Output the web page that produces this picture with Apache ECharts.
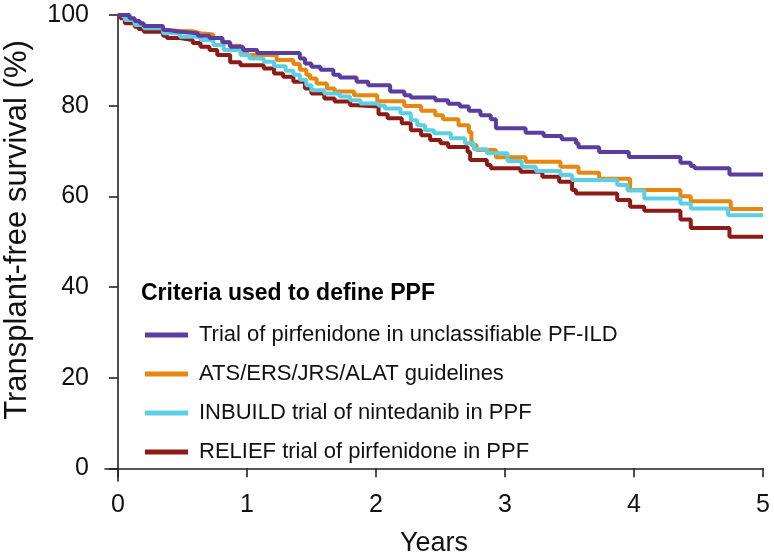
<!DOCTYPE html>
<html>
<head>
<meta charset="utf-8">
<script src="https://cdn.jsdelivr.net/npm/echarts@6/dist/echarts.min.js"></script>
<style>html,body{margin:0;padding:0;background:#fff}#c{width:774px;height:560px}</style>
</head>
<body>
<div id="c"></div>
<script>
const seriesNames = [
  'Trial of pirfenidone in unclassifiable PF-ILD',
  'ATS/ERS/JRS/ALAT guidelines',
  'INBUILD trial of nintedanib in PPF',
  'RELIEF trial of pirfenidone in PPF'
];
const legendTitle = 'Criteria used to define PPF';
const xTicks = [0, 1, 2, 3, 4, 5];
const yTicks = [0, 20, 40, 60, 80, 100];

// [years, transplant-free survival %]
const unclassifiable = [[0,100],[0.09,99.3],[0.13,98.7],[0.17,98.2],[0.2,97.6],[0.35,96.7],[0.39,96.3],[0.48,96.0],[0.62,95.4],[0.71,94.9],[0.81,94.0],[0.87,93.0],[0.97,92.3],[1.08,91.6],[1.41,90.4],[1.45,89.3],[1.5,88.6],[1.57,87.9],[1.67,86.8],[1.72,86.2],[1.85,85.3],[1.94,84.5],[2.11,83.1],[2.22,82.3],[2.27,81.8],[2.46,81.2],[2.56,80.4],[2.65,79.8],[2.72,78.9],[2.81,77.9],[2.89,77.0],[2.93,75.0],[3.16,74.0],[3.3,73.3],[3.44,72.6],[3.55,71.7],[3.57,70.8],[3.73,69.8],[3.96,68.7],[4.36,67.4],[4.44,66.7],[4.47,66.2],[4.74,64.8],[5.0,64.8]];
const atsGuidelines = [[0,100],[0.07,99.0],[0.13,98.0],[0.2,97.3],[0.35,96.6],[0.39,96.4],[0.58,96.0],[0.64,95.7],[0.74,94.9],[0.81,94.0],[0.87,93.2],[0.95,92.0],[1.0,91.2],[1.23,90.1],[1.36,89.2],[1.41,87.9],[1.46,86.8],[1.49,86.0],[1.54,84.9],[1.62,83.8],[1.68,83.1],[1.83,82.3],[2.01,81.0],[2.22,79.9],[2.35,78.9],[2.46,77.9],[2.52,77.0],[2.64,75.7],[2.72,74.2],[2.74,71.3],[2.78,70.2],[2.93,68.6],[3.16,67.6],[3.43,66.5],[3.57,65.2],[3.73,63.9],[3.97,61.4],[4.36,60.0],[4.44,58.9],[4.75,57.2],[5.0,57.2]];
const inbuild = [[0,100],[0.02,99.6],[0.054,98.9],[0.13,97.8],[0.2,97.1],[0.35,96.0],[0.48,95.2],[0.64,94.5],[0.74,93.4],[0.82,92.3],[0.95,91.2],[1.02,90.4],[1.13,89.7],[1.21,88.7],[1.3,87.7],[1.36,86.8],[1.41,85.7],[1.46,84.5],[1.5,83.4],[1.6,82.7],[1.72,82.0],[1.8,81.2],[1.88,80.5],[2.02,80.0],[2.07,79.4],[2.19,78.3],[2.27,76.8],[2.32,75.7],[2.38,74.6],[2.45,73.9],[2.58,72.8],[2.69,71.7],[2.76,70.4],[2.86,69.5],[3.02,67.8],[3.13,66.5],[3.24,65.6],[3.43,64.7],[3.52,63.6],[3.87,62.5],[3.95,61.3],[4.08,59.5],[4.36,58.4],[4.44,57.3],[4.73,55.8],[5.0,55.8]];
const relief = [[0,100],[0.02,99.3],[0.054,98.2],[0.13,97.4],[0.16,96.9],[0.2,96.3],[0.35,95.4],[0.38,94.9],[0.48,94.5],[0.58,93.8],[0.64,93.0],[0.71,92.3],[0.77,91.2],[0.87,89.6],[0.95,88.9],[1.13,88.2],[1.21,87.1],[1.28,86.4],[1.36,85.3],[1.45,83.8],[1.5,82.7],[1.6,81.6],[1.68,80.9],[1.8,80.1],[1.85,79.8],[2.02,78.1],[2.09,77.2],[2.2,76.1],[2.27,74.6],[2.35,73.5],[2.42,72.4],[2.5,71.7],[2.56,70.9],[2.71,69.8],[2.73,68.0],[2.86,66.9],[2.89,66.2],[3.12,65.4],[3.29,64.3],[3.42,63.2],[3.52,61.4],[3.55,60.6],[3.87,59.2],[3.97,57.7],[4.08,56.8],[4.36,54.9],[4.44,53.0],[4.74,51.1],[5.0,51.1]];

const colors = ['#5b3d9f', '#e8870e', '#5dcfe2', '#8c1b17'];
const sans = "'Liberation Sans', Arial, sans-serif";

const chart = echarts.init(document.getElementById('c'), null, {renderer: 'canvas'});

function mk(idx, data, z) {
  return {
    name: seriesNames[idx], type: 'line', step: 'end', data: data,
    showSymbol: false, symbol: 'none', clip: false, z: z,
    lineStyle: {color: colors[idx], width: 4},
    itemStyle: {color: colors[idx]},
    emphasis: {disabled: true}, animation: false
  };
}

chart.setOption({
  animation: false,
  grid: {left: 105, top: 15, width: 658, height: 466, containLabel: false, outerBoundsMode: 'none'},
  title: {
    text: legendTitle, left: 136, top: 277,
    textStyle: {fontFamily: sans, fontWeight: 'bold', fontSize: 23, color: '#000'}
  },
  legend: {
    data: seriesNames, orient: 'vertical', left: 140, top: 318,
    icon: 'rect', itemWidth: 43, itemHeight: 5, itemGap: 15,
    selectedMode: false,
    textStyle: {fontFamily: sans, fontSize: 22, color: '#111', lineHeight: 24, padding: [0, 0, 0, 6]}
  },
  xAxis: {
    type: 'value', min: -0.1, max: 5,
    name: 'Years', nameLocation: 'middle', nameGap: 49,
    nameTextStyle: {fontFamily: sans, fontSize: 27, color: '#111'},
    axisLine: {show: true, lineStyle: {color: '#222', width: 1.6}},
    axisTick: {show: true, length: 9, lineStyle: {color: '#222', width: 1.6}, customValues: xTicks},
    axisLabel: {fontFamily: sans, fontSize: 25, color: '#111', margin: 12, customValues: xTicks},
    splitLine: {show: false}
  },
  yAxis: {
    type: 'value', min: -2.8, max: 100,
    name: 'Transplant-free survival (%)', nameLocation: 'middle', nameGap: 72,
    nameTextStyle: {fontFamily: sans, fontSize: 31, color: '#111', padding: [0, 0, 0, 36]},
    axisLine: {show: true, lineStyle: {color: '#222', width: 1.6}},
    axisTick: {show: true, length: 9, lineStyle: {color: '#222', width: 1.6}, customValues: yTicks},
    axisLabel: {fontFamily: sans, fontSize: 25, color: '#111', margin: 16, customValues: yTicks},
    splitLine: {show: false}
  },
  series: [
    mk(3, relief, 2),
    mk(1, atsGuidelines, 3),
    mk(2, inbuild, 4),
    mk(0, unclassifiable, 5)
  ]
});
</script>
</body>
</html>
